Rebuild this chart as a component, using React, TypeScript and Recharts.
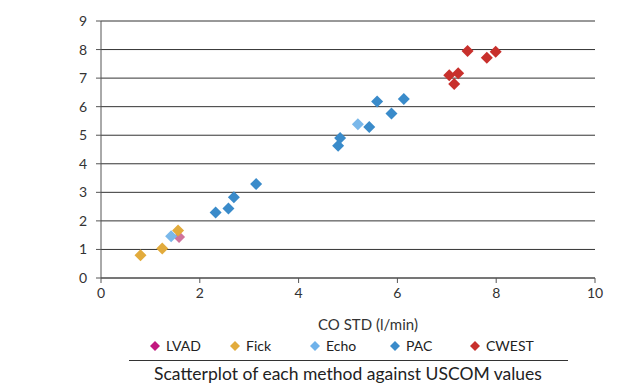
import { ScatterChart, Scatter, XAxis, YAxis, CartesianGrid } from 'recharts'

const lvad = [{ x: 1.58, y: 1.44 }]
const fick = [
  { x: 0.8, y: 0.8 },
  { x: 1.24, y: 1.03 },
  { x: 1.56, y: 1.66 },
]
const echo = [
  { x: 1.42, y: 1.46 },
  { x: 5.2, y: 5.38 },
]
const pac = [
  { x: 2.32, y: 2.29 },
  { x: 2.58, y: 2.43 },
  { x: 2.69, y: 2.83 },
  { x: 3.14, y: 3.29 },
  { x: 4.8, y: 4.63 },
  { x: 4.84, y: 4.9 },
  { x: 5.43, y: 5.29 },
  { x: 5.59, y: 6.18 },
  { x: 5.88, y: 5.76 },
  { x: 6.13, y: 6.27 },
]
const cwest = [
  { x: 7.05, y: 7.1 },
  { x: 7.15, y: 6.79 },
  { x: 7.23, y: 7.17 },
  { x: 7.42, y: 7.95 },
  { x: 7.81, y: 7.71 },
  { x: 7.99, y: 7.92 },
]

const xTicks = [0, 2, 4, 6, 8, 10]
const yTicks = [0, 1, 2, 3, 4, 5, 6, 7, 8, 9]

const series = [
  { name: 'LVAD', data: lvad, fill: '#d0739c', legend: '#c2177f' },
  { name: 'Fick', data: fick, fill: '#e2ab3c', legend: '#e2ab3c' },
  { name: 'Echo', data: echo, fill: '#7ab8ea', legend: '#6fb2ea' },
  { name: 'PAC', data: pac, fill: '#3a8bca', legend: '#3a8bca' },
  { name: 'CWEST', data: cwest, fill: '#c8302c', legend: '#c8302c' },
]

const font = 'Lato, "Open Sans", sans-serif'

function diamond(fill: string, r: number) {
  return (props: any) => {
    const { cx, cy } = props
    return (
      <path
        d={`M${cx},${cy - r}L${cx + r},${cy}L${cx},${cy + r}L${cx - r},${cy}Z`}
        fill={fill}
      />
    )
  }
}

export default function App() {
  return (
    <div style={{ position: 'absolute', left: 0, top: 0, width: 627, height: 383, background: '#fff', fontFamily: font }}>
      <ScatterChart width={627} height={383} margin={{ top: 21, right: 32, left: 0, bottom: 50 }}>
        <CartesianGrid horizontal vertical={false} stroke="#333" />
        <XAxis
          type="number"
          dataKey="x"
          domain={[0, 10]}
          ticks={xTicks}
          height={55}
          stroke="#555"
          tickSize={5}
          tickMargin={5}
          tick={{ fill: '#333', fontSize: 14, fontFamily: font }}
          label={{ value: 'CO STD (l/min)', position: 'insideBottom', offset: 3, dx: 20, fill: '#333', fontSize: 15, fontFamily: font }}
        />
        <YAxis
          type="number"
          dataKey="y"
          domain={[0, 9]}
          ticks={yTicks}
          width={101}
          stroke="#555"
          tickSize={5}
          tickMargin={9}
          tick={{ fill: '#333', fontSize: 14, fontFamily: font }}
        />
        {series.map((s) => (
          <Scatter
            key={s.name}
            name={s.name}
            data={s.data}
            fill={s.fill}
            shape={diamond(s.fill, 6)}
            isAnimationActive={false}
          />
        ))}
      </ScatterChart>
      <div style={{ position: 'absolute', left: 149, top: 337, display: 'flex', fontSize: 14, color: '#222' }}>
        {series.map((s) => (
          <div key={s.name} style={{ width: 80, display: 'flex', alignItems: 'center' }}>
            <svg width={12} height={12} style={{ marginRight: 5 }}>
              <path d="M6,1L11,6L6,11L1,6Z" fill={s.legend} />
            </svg>
            <span>{s.name}</span>
          </div>
        ))}
      </div>
      <div style={{ position: 'absolute', left: 129, top: 360, width: 439, borderTop: '1px solid #333' }} />
      <div style={{ position: 'absolute', left: 98, width: 500, top: 363, textAlign: 'center', fontSize: 17.5, color: '#222', whiteSpace: 'nowrap' }}>
        Scatterplot of each method against USCOM values
      </div>
    </div>
  )
}
